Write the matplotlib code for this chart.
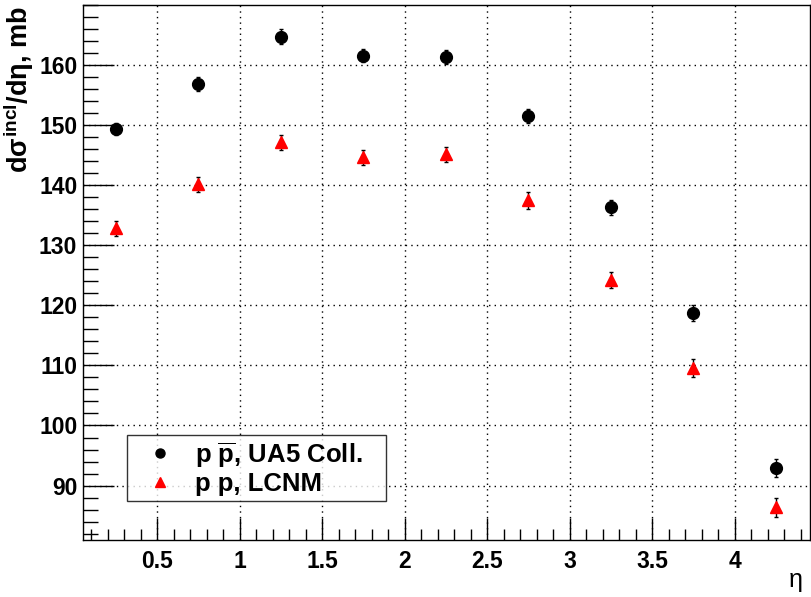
import numpy as np
import matplotlib.pyplot as plt
from matplotlib.ticker import MultipleLocator
from matplotlib.lines import Line2D

plt.rcParams['font.family'] = ['Liberation Sans', 'DejaVu Sans']
plt.rcParams['mathtext.fontset'] = 'custom'
plt.rcParams['mathtext.rm'] = 'Liberation Sans:bold'
plt.rcParams['mathtext.it'] = 'Liberation Sans:bold'
plt.rcParams['mathtext.bf'] = 'Liberation Sans:bold'

# pseudorapidity bins
eta = [0.25, 0.75, 1.25, 1.75, 2.25, 2.75, 3.25, 3.75, 4.25]

# p pbar, UA5 data
ua5 = [149.3, 156.8, 164.7, 161.5, 161.3, 151.5, 136.3, 118.7, 92.9]
ua5_err = [1.0, 1.1, 1.2, 1.1, 1.1, 1.1, 1.2, 1.3, 1.5]

# p p, LCNM
lcnm = [132.8, 140.1, 147.1, 144.6, 145.1, 137.5, 124.2, 109.5, 86.4]
lcnm_err = [1.2, 1.2, 1.3, 1.3, 1.3, 1.4, 1.4, 1.5, 1.6]

fig = plt.figure(figsize=(8.12, 5.97), dpi=100)
ax = fig.add_axes([0.102, 0.095, 0.8955, 0.897])

ax.errorbar(eta, ua5, yerr=ua5_err, fmt='o', color='black', ms=8.5,
            ecolor='black', elinewidth=1, capsize=1.5)
ax.errorbar(eta, lcnm, yerr=lcnm_err, fmt='^', color='red', ms=8,
            ecolor='black', elinewidth=1, capsize=1.5)

ax.set_xlim(0.05, 4.457)
ax.set_ylim(80.9, 170)

ax.set_xticks([0.5, 1, 1.5, 2, 2.5, 3, 3.5, 4])
ax.set_xticklabels(['0.5', '1', '1.5', '2', '2.5', '3', '3.5', '4'])
ax.xaxis.set_minor_locator(MultipleLocator(0.1))
ax.set_yticks([90, 100, 110, 120, 130, 140, 150, 160])
ax.yaxis.set_minor_locator(MultipleLocator(2))

ax.tick_params(which='both', direction='in', top=False, right=False, width=1)
ax.tick_params(which='major', axis='x', length=16, pad=7)
ax.tick_params(which='minor', axis='x', length=8)
ax.tick_params(which='major', axis='y', length=22, pad=4)
ax.tick_params(which='minor', axis='y', length=11)
for lab in ax.get_xticklabels() + ax.get_yticklabels():
    lab.set_fontsize(16.5)
    lab.set_fontweight('bold')

ax.grid(True, which='major', color='black', linestyle=(0, (1, 3)), linewidth=1)
for s in ax.spines.values():
    s.set_linewidth(1)

ax.set_ylabel(r'$\mathrm{d}\sigma^{\mathrm{incl}}/\mathrm{d}\eta$, mb', fontsize=19.5,
              fontweight='bold', loc='top')
ax.yaxis.set_label_coords(-0.065, 0.998)
ax.set_xlabel('η', fontsize=18, loc='right')
ax.xaxis.set_label_coords(0.99, -0.052)

handles = [Line2D([], [], marker='o', color='black', ls='none', ms=6.5),
           Line2D([], [], marker='^', color='red', ls='none', ms=6.5)]
labels = [r'p $\overline{\mathrm{p}}$, UA5 Coll.', 'p p, LCNM']
leg = ax.legend(handles, labels, loc='lower left',
                bbox_to_anchor=(0.0605, 0.0728, 0.356, 0.119), mode='expand',
                prop={'weight': 'bold', 'size': 18.5}, frameon=True, fancybox=False,
                edgecolor='black', handlelength=2.2, handletextpad=0.25,
                borderpad=0.2, labelspacing=0.1, borderaxespad=0)
leg.get_frame().set_linewidth(1)

fig.savefig('out.png', dpi=100)
